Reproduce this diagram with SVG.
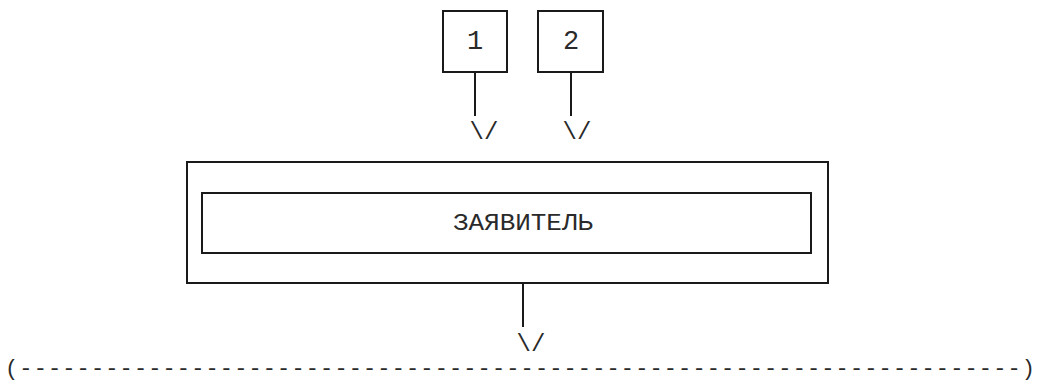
<svg xmlns="http://www.w3.org/2000/svg" width="1041" height="381" viewBox="0 0 1041 381">
<style>
.box{fill:none;stroke:#1a1a1a;stroke-width:2}
.ln{stroke:#1a1a1a;stroke-width:2}
.t{font-family:"Liberation Mono","Courier New",monospace;font-size:24px;fill:#2a2a2a}
.m{text-anchor:middle}
.d{font-size:27px}
.b{font-size:22px}
</style>
<rect width="1041" height="381" fill="#fff"/>
<g id="node-1">
<rect class="box" x="443" y="11" width="64" height="61"/>
<text class="t m d" x="475" y="49">1</text>
</g>
<g id="node-2">
<rect class="box" x="538" y="11" width="65" height="61"/>
<text class="t m d" x="571" y="49">2</text>
</g>
<g id="node-applicant">
<rect class="box" x="187" y="162" width="641" height="121"/>
<rect class="box" x="202" y="193" width="609" height="60"/>
<text class="t m" x="523" y="229.5" textLength="140" lengthAdjust="spacingAndGlyphs">ЗАЯВИТЕЛЬ</text>
</g>
<g id="node-bottom">
<text class="t b" x="5" y="375" textLength="1030" lengthAdjust="spacing">(----------------------------------------------------------------------)</text>
</g>
<g id="connectors">
<line class="ln" x1="475" y1="72" x2="475" y2="116"/>
<line class="ln" x1="571" y1="72" x2="571" y2="116"/>
<line class="ln" x1="523" y1="283" x2="523" y2="327"/>
<text class="t m" x="484" y="139">\/</text>
<text class="t m" x="577" y="139">\/</text>
<text class="t m" x="531" y="351">\/</text>
</g>
</svg>
